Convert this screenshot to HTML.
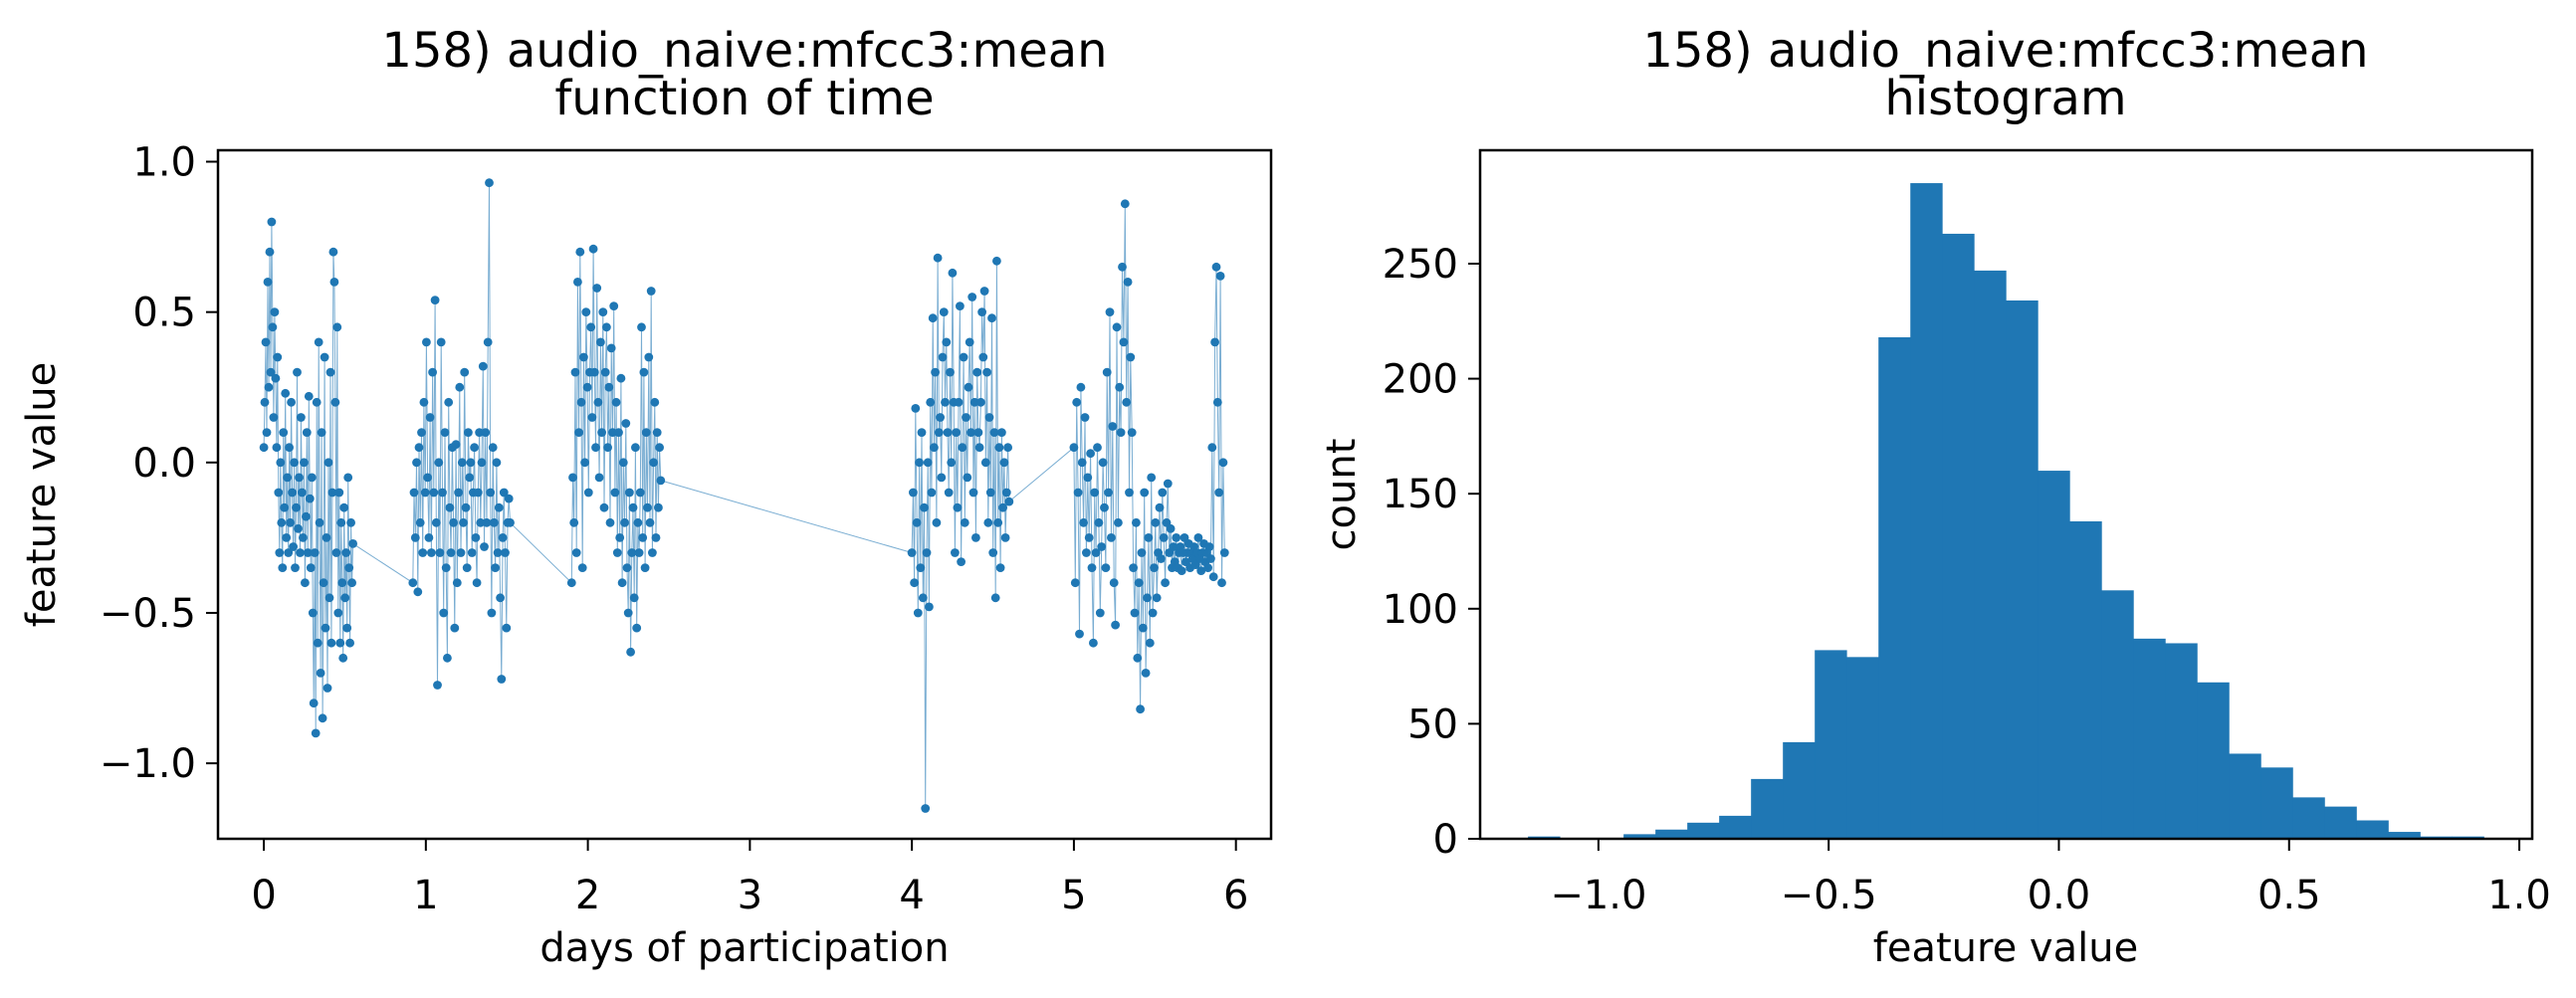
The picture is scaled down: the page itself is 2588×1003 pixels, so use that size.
<!DOCTYPE html>
<html><head><meta charset="utf-8"><style>
html,body{margin:0;padding:0;background:#fff}
svg{display:block;font-family:"DejaVu Sans","Liberation Sans",sans-serif}
</style></head><body>
<svg id="fig" width="2588" height="1003" viewBox="0 0 2588 1003" xmlns="http://www.w3.org/2000/svg">
<rect width="2588" height="1003" fill="#fff"/>
<g id="left"></g>
<g id="right"></g>
</svg>
<script>
// ---------- time series data ----------
const segStarts = [0.0, 0.92, 1.9, 4.0, 5.0];
const segEnds = [0.55, 1.52, 2.45, 4.6, 5.93];
const segA = [0.05,0.2,0.4,0.1,0.6,0.25,0.7,0.3,0.8,0.45,0.15,0.5,0.28,0.05,0.35,
-0.1,-0.3,0.0,-0.2,-0.35,0.1,-0.15,0.23,-0.25,-0.05,-0.3,0.05,-0.2,0.2,-0.1,-0.28,0.0,-0.35,-0.15,0.3,-0.22,-0.05,-0.3,0.15,-0.1,-0.25,0.0,-0.4,-0.18,0.1,-0.3,0.22,-0.12,-0.35,-0.05,
-0.5,-0.8,-0.3,-0.9,0.2,-0.6,0.4,-0.2,-0.7,0.1,-0.85,-0.4,0.35,-0.55,-0.25,-0.75,0.0,-0.45,0.3,-0.6,-0.1,0.7,
0.6,0.2,-0.3,0.45,-0.5,-0.1,-0.6,-0.2,-0.4,-0.65,-0.15,-0.45,-0.3,-0.55,-0.05,-0.35,-0.6,-0.2,-0.4,-0.27];
const segB = [-0.4,-0.1,-0.25,0.0,-0.43,0.05,-0.2,0.1,-0.3,0.2,-0.1,0.4,-0.05,-0.25,0.15,-0.3,0.3,-0.1,0.54,-0.2,-0.74,0.0,-0.3,0.4,-0.1,-0.5,0.1,-0.35,-0.65,0.2,-0.15,-0.3,0.05,-0.2,-0.55,0.06,-0.4,-0.1,0.25,-0.3,0.0,-0.2,0.3,-0.15,-0.35,0.1,-0.05,0.0,-0.3,-0.1,0.05,-0.25,-0.4,-0.1,0.1,-0.2,0.0,0.32,-0.28,0.1,-0.2,0.4,0.93,-0.1,-0.5,0.05,-0.2,-0.35,0.0,-0.3,-0.15,-0.45,-0.72,-0.25,-0.1,-0.3,-0.55,-0.2,-0.12,-0.2];
const segC = [-0.4,-0.05,-0.2,0.3,-0.3,0.6,0.1,0.7,0.2,-0.35,0.35,0.0,0.5,0.25,-0.1,0.3,0.45,0.15,0.71,0.3,0.05,0.58,0.2,-0.05,0.4,0.1,0.5,-0.15,0.3,0.45,0.05,0.25,-0.2,0.38,0.1,0.52,-0.1,0.2,-0.3,0.1,-0.25,0.28,-0.4,0.0,-0.2,0.13,-0.35,-0.5,-0.1,-0.63,-0.3,-0.15,-0.45,0.05,-0.55,-0.2,-0.3,-0.1,0.45,-0.25,0.3,-0.35,0.1,-0.15,0.35,-0.2,0.57,-0.3,0.0,0.2,-0.25,0.1,-0.15,0.05,-0.06];
const segD = [-0.3,-0.1,-0.4,0.18,-0.2,-0.5,0.0,-0.35,0.1,-0.45,-0.15,-1.15,-0.3,0.0,-0.48,0.2,-0.1,0.48,0.05,0.3,-0.2,0.68,0.1,0.15,-0.05,0.35,0.5,0.2,0.4,0.1,-0.1,0.3,0.0,0.63,0.2,-0.3,0.1,-0.15,0.2,0.52,-0.33,0.05,0.35,-0.2,0.15,-0.05,0.25,0.4,0.1,0.55,-0.1,0.2,-0.25,0.3,0.1,0.05,0.2,0.5,0.35,0.57,0.0,0.3,-0.2,0.15,-0.1,0.48,-0.3,0.1,-0.45,0.67,-0.2,0.05,-0.35,0.1,-0.15,0.0,-0.25,-0.1,0.05,-0.13];
const segE = [0.05,-0.4,0.2,-0.1,-0.57,0.25,0.0,-0.2,0.15,-0.3,-0.05,-0.25,0.03,-0.35,-0.6,-0.1,-0.3,0.05,-0.2,-0.5,-0.28,0.0,-0.15,-0.35,0.3,-0.1,0.5,-0.25,0.12,-0.4,-0.54,0.45,-0.2,0.25,0.1,0.65,0.4,0.86,0.2,0.6,-0.1,0.35,0.1,-0.35,-0.5,-0.2,-0.65,-0.4,-0.82,-0.3,-0.55,-0.1,-0.7,-0.45,-0.25,-0.6,-0.05,-0.5,-0.35,-0.2,-0.45,-0.3,-0.15,-0.32,-0.1,-0.25,-0.4,-0.2,-0.07,-0.3,-0.22,-0.35,-0.28,-0.33,-0.25,-0.35,-0.3,-0.28,-0.36,-0.3,-0.25,-0.33,-0.3,-0.27,-0.35,-0.3,-0.32,-0.28,-0.34,-0.3,-0.25,-0.32,-0.36,-0.3,-0.27,-0.33,-0.3,-0.35,-0.28,-0.32,0.05,-0.38,0.4,0.65,0.2,-0.1,0.62,-0.4,0.0,-0.3];
const xTicksL = [0,1,2,3,4,5,6];
const yTicksL = [1.0,0.5,0.0,-0.5,-1.0];
const yTickLabelsL = ["1.0","0.5","0.0","\u22120.5","\u22121.0"];

// ---------- histogram data ----------
const binStart = -1.153;
const binWidth = 0.0692;
const counts = [1,0,0,2,4,7,10,26,42,82,79,218,285,263,247,234,160,138,108,87,85,68,37,31,18,14,8,3,1,1];
const xTicksR = [-1.0,-0.5,0.0,0.5,1.0];
const xTickLabelsR = ["\u22121.0","\u22120.5","0.0","0.5","1.0"];
const yTicksR = [0,50,100,150,200,250];

const NS = "http://www.w3.org/2000/svg";
const C = "#1f77b4";
const TICK_FS = 40;
function mk(parent, tag, attrs, text){
  const e = document.createElementNS(NS, tag);
  for (const k in attrs) e.setAttribute(k, attrs[k]);
  if (text !== undefined) e.textContent = text;
  parent.appendChild(e);
  return e;
}

// ----- left axes -----
const L = {x0:219, x1:1277, y0:151, y1:843};
const lxmin=-0.283, lxmax=6.217, lymin=-1.251, lymax=1.038;
const lx = v => L.x0 + (v-lxmin)/(lxmax-lxmin)*(L.x1-L.x0);
const ly = v => L.y1 - (v-lymin)/(lymax-lymin)*(L.y1-L.y0);
const left = document.getElementById('left');
const segs = [segA, segB, segC, segD, segE];
const pts = [];
segs.forEach((s,i)=>{ s.forEach((v,j)=>{ const t = segStarts[i] + (segEnds[i]-segStarts[i])*j/(s.length-1); pts.push([t,v]); }); });
const line = mk(left,'polyline',{points: pts.map(p=>lx(p[0]).toFixed(1)+','+ly(p[1]).toFixed(1)).join(' '), fill:'none', stroke:C, 'stroke-width':1, 'stroke-opacity':0.6});


pts.forEach(p=>{
  const c = mk(left,'circle',{cx:lx(p[0]).toFixed(1), cy:ly(p[1]).toFixed(1), r:4.4, fill:C});
  
  
});
const fr = mk(left,'rect',{x:L.x0,y:L.y0,width:L.x1-L.x0,height:L.y1-L.y0,fill:'none',stroke:'#000','stroke-width':2.5});


xTicksL.forEach(v=>{
  const x = lx(v);
  mk(left,'line',{x1:x,x2:x,y1:L.y1,y2:L.y1+12,stroke:'#000','stroke-width':2});
  const t = mk(left,'text',{x:x,y:L.y1+70,'font-size':TICK_FS,'text-anchor':'middle'}, String(v));
  
  
});
yTicksL.forEach((v,i)=>{
  const y = ly(v);
  mk(left,'line',{x1:L.x0-12,x2:L.x0,y1:y,y2:y,stroke:'#000','stroke-width':2});
  const t = mk(left,'text',{x:L.x0-22,y:y+14,'font-size':TICK_FS,'text-anchor':'end'}, yTickLabelsL[i]);
  
  
});

// ----- right axes -----
const R = {x0:1487, x1:2544, y0:151, y1:843};
const rxmin=-1.257, rxmax=1.028, rymin=0, rymax=299.3;
const rx = v => R.x0 + (v-rxmin)/(rxmax-rxmin)*(R.x1-R.x0);
const ry = v => R.y1 - (v-rymin)/(rymax-rymin)*(R.y1-R.y0);
const right = document.getElementById('right');
counts.forEach((c,i)=>{
  const a = binStart + i*binWidth, b = a + binWidth;
  const r = mk(right,'rect',{x:rx(a).toFixed(2), y:ry(c).toFixed(2), width:(rx(b)-rx(a)+0.4).toFixed(2), height:(ry(0)-ry(c)).toFixed(2), fill:C});
  
  
});
const fr2 = mk(right,'rect',{x:R.x0,y:R.y0,width:R.x1-R.x0,height:R.y1-R.y0,fill:'none',stroke:'#000','stroke-width':2.5});


xTicksR.forEach((v,i)=>{
  const x = rx(v);
  mk(right,'line',{x1:x,x2:x,y1:R.y1,y2:R.y1+12,stroke:'#000','stroke-width':2});
  const t = mk(right,'text',{x:x,y:R.y1+70,'font-size':TICK_FS,'text-anchor':'middle'}, xTickLabelsR[i]);
  
  
});
yTicksR.forEach(v=>{
  const y = ry(v);
  mk(right,'line',{x1:R.x0-12,x2:R.x0,y1:y,y2:y,stroke:'#000','stroke-width':2});
  const t = mk(right,'text',{x:R.x0-22,y:y+14,'font-size':TICK_FS,'text-anchor':'end'}, String(v));
  
  
});
</script>
<script>
const fig = document.getElementById('fig');
function tx(x,y,size,str,name,rot){
  const e = document.createElementNS(NS,'text');
  e.setAttribute('x',x); e.setAttribute('y',y);
  e.setAttribute('font-size',size); e.setAttribute('text-anchor','middle');
  if (rot) e.setAttribute('transform','rotate(-90 '+x+' '+y+')');
  e.textContent = str;
  
  
  fig.appendChild(e);
}
tx(748,67,48,'158) audio_naive:mfcc3:mean','left-title-line1');
tx(748,115,48,'function of time','left-title-line2');
tx(748,966,40,'days of participation','x-axis-title-left');
tx(55,497,40,'feature value','y-axis-title-left',true);
tx(2015,67,48,'158) audio_naive:mfcc3:mean','right-title-line1');
tx(2015,115,48,'histogram','right-title-line2');
tx(2015,966,40,'feature value','x-axis-title-right');
tx(1361,497,40,'count','y-axis-title-right',true);
</script>
</body></html>
